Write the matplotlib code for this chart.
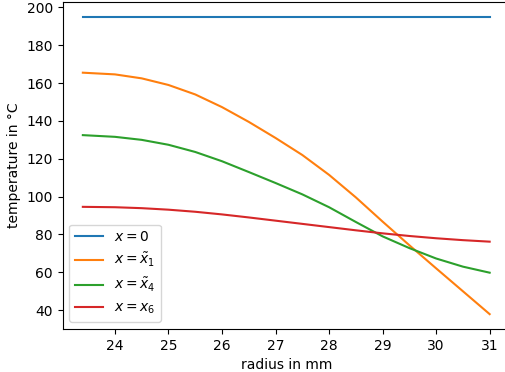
import matplotlib
matplotlib.use("Agg")
import matplotlib.pyplot as plt

# Radius positions (mm) and temperature profiles (°C)
radius = [23.4, 24.0, 24.5, 25.0, 25.5, 26.0, 26.5, 27.0, 27.5,
          28.0, 28.5, 29.0, 29.5, 30.0, 30.5, 31.0]
temp_x0 = [195.0] * len(radius)
temp_x1 = [165.5, 164.6, 162.5, 159.0, 154.0, 147.3, 139.5, 131.0, 122.0,
           111.5, 99.6, 86.8, 74.3, 62.1, 50.0, 37.9]
temp_x4 = [132.5, 131.6, 130.0, 127.4, 123.6, 118.7, 113.0, 107.2, 101.2,
           94.4, 86.6, 79.0, 72.8, 67.3, 63.0, 59.8]
temp_x6 = [94.6, 94.4, 93.9, 93.1, 92.0, 90.6, 89.0, 87.3, 85.6,
           83.9, 82.2, 80.6, 79.2, 78.0, 77.0, 76.2]

labels = [r'$x = 0$', r'$x = \tilde{x}_1$', r'$x = \tilde{x}_4$', r'$x = x_6$']

fig = plt.figure(figsize=(5.05, 3.72), dpi=100)
ax = fig.add_axes([62.5 / 505, 43 / 372, (510 - 62.5) / 505, 327 / 372])

for temps, lab in zip([temp_x0, temp_x1, temp_x4, temp_x6], labels):
    ax.plot(radius, temps, label=lab)

ax.set_xlabel('radius in mm')
ax.set_ylabel('temperature in °C')
ax.legend(loc='lower left')

fig.savefig('out.png', dpi=100)
